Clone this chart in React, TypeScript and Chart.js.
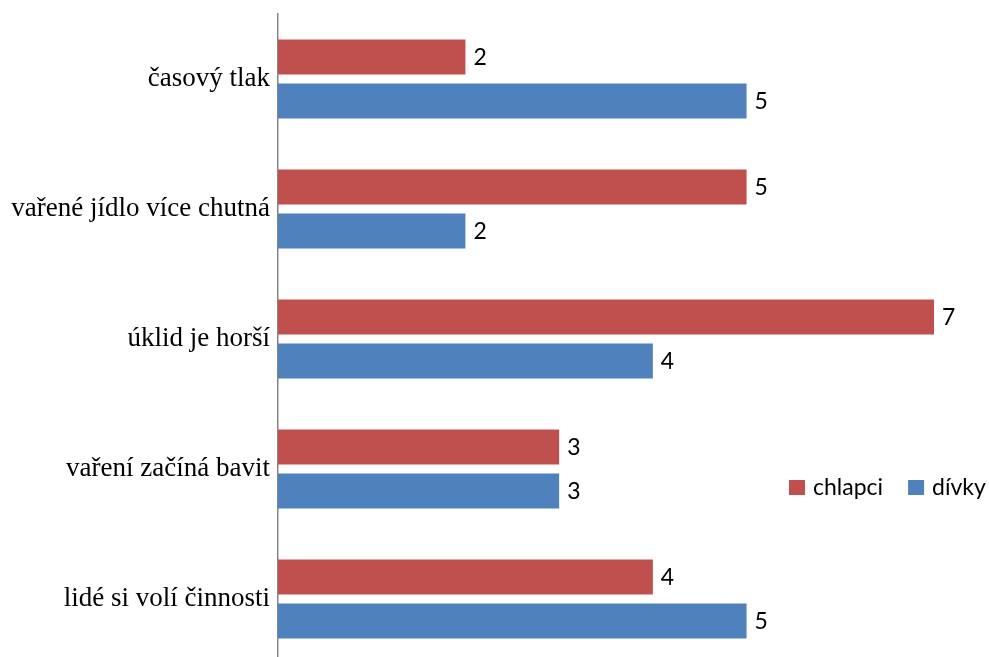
import React, { useEffect, useRef } from "react";
import { Chart, registerables } from "chart.js";

Chart.register(...registerables);

const categories = [
  "časový tlak",
  "vařené jídlo více chutná",
  "úklid je horší",
  "vaření začíná bavit",
  "lidé si volí činnosti",
];
const chlapci = [2, 5, 7, 3, 4];
const divky = [5, 2, 4, 3, 5];
const seriesNames = ["chlapci", "dívky"];
const seriesColors = ["#C0504D", "#4F81BD"];

const valueFont = "23px Lato";

const valueLabels = {
  id: "valueLabels",
  afterDatasetsDraw(chart: any) {
    const ctx = chart.ctx;
    ctx.save();
    ctx.font = valueFont;
    ctx.fillStyle = "#000";
    ctx.textAlign = "left";
    ctx.textBaseline = "middle";
    chart.data.datasets.forEach((ds: any, i: number) => {
      const meta = chart.getDatasetMeta(i);
      meta.data.forEach((bar: any, j: number) => {
        ctx.fillText(String(ds.data[j]), bar.x + 8, bar.y + 1);
      });
    });
    ctx.restore();
  },
};

const customLegend = {
  id: "customLegend",
  afterDraw(chart: any) {
    const ctx = chart.ctx;
    ctx.save();
    ctx.font = valueFont;
    ctx.textBaseline = "middle";
    ctx.textAlign = "left";
    const y = 488;
    let x = 789;
    seriesNames.forEach((name, i) => {
      ctx.fillStyle = seriesColors[i];
      ctx.fillRect(x, y - 8, 16, 15);
      ctx.fillStyle = "#000";
      ctx.fillText(name, x + 24, y);
      x += 24 + ctx.measureText(name).width + 25;
    });
    ctx.restore();
  },
};

export default function App() {
  const ref = useRef<HTMLCanvasElement>(null);
  useEffect(() => {
    if (!ref.current) return;
    const chart = new Chart(ref.current, {
      type: "bar",
      data: {
        labels: categories,
        datasets: [
          { label: seriesNames[0], data: chlapci, backgroundColor: seriesColors[0] },
          { label: seriesNames[1], data: divky, backgroundColor: seriesColors[1] },
        ],
      },
      options: {
        indexAxis: "y",
        animation: false,
        responsive: true,
        maintainAspectRatio: false,
        categoryPercentage: 88 / 130,
        barPercentage: 35 / 44,
        layout: { padding: { top: 14, bottom: 16, right: 55, left: 0 } },
        plugins: { legend: { display: false }, tooltip: { enabled: false } },
        scales: {
          x: { display: false, min: 0, max: 7 },
          y: {
            grid: { display: false, drawTicks: false },
            border: { display: true, color: "#868686", width: 1.5 },
            ticks: {
              color: "#000",
              padding: 8,
              font: { family: "'Liberation Serif'", size: 27 },
            },
            afterFit(scale: any) {
              scale.width = 278;
              scale.paddingTop = 0;
              scale.paddingBottom = 0;
            },
          },
        },
      } as any,
      plugins: [valueLabels, customLegend],
    });
    return () => chart.destroy();
  }, []);
  return (
    <div style={{ position: "absolute", left: 0, top: 0, width: 989, height: 680, background: "#fff" }}>
      <canvas ref={ref} />
    </div>
  );
}
